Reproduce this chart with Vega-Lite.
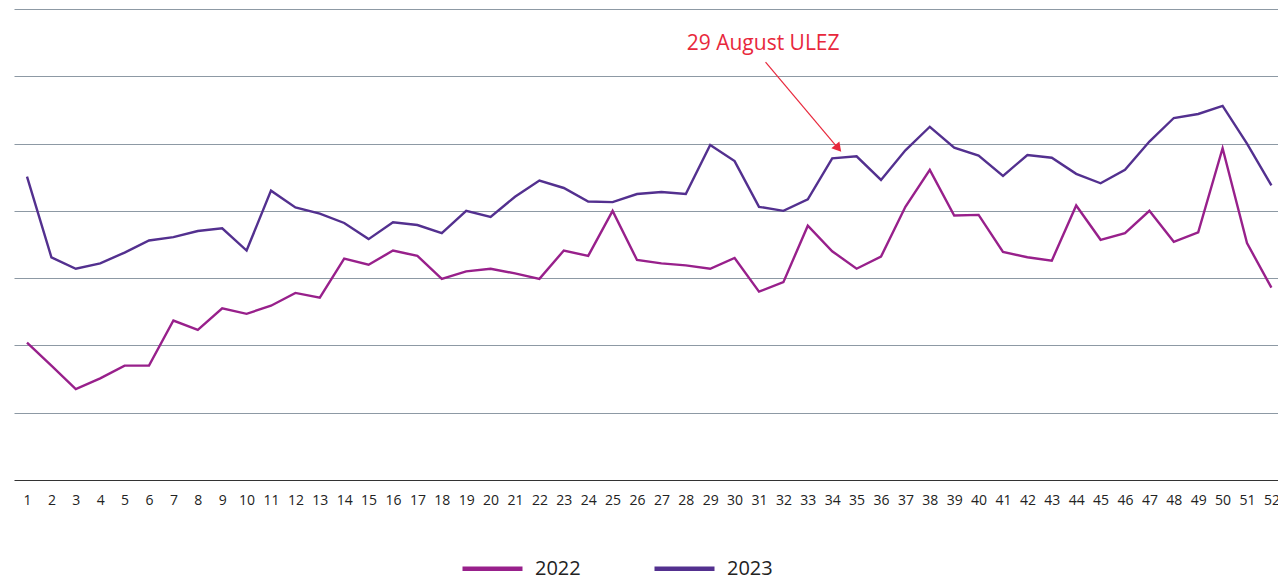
{
  "$schema": "https://vega.github.io/schema/vega-lite/v6.json",
  "width": 1264,
  "height": 471,
  "autosize": {"type": "none"},
  "padding": {"left": 14, "top": 9, "right": 0, "bottom": 101},
  "background": "white",
  "config": {"view": {"stroke": null}, "font": "Open Sans"},
  "datasets": {
    "series": [
      {"week": 1, "year": "2022", "value": 20.4}, {"week": 2, "year": "2022", "value": 17.0}, {"week": 3, "year": "2022", "value": 13.5}, {"week": 4, "year": "2022", "value": 15.1},
      {"week": 5, "year": "2022", "value": 17.0}, {"week": 6, "year": "2022", "value": 17.0}, {"week": 7, "year": "2022", "value": 23.7}, {"week": 8, "year": "2022", "value": 22.3},
      {"week": 9, "year": "2022", "value": 25.5}, {"week": 10, "year": "2022", "value": 24.7}, {"week": 11, "year": "2022", "value": 25.9}, {"week": 12, "year": "2022", "value": 27.8},
      {"week": 13, "year": "2022", "value": 27.1}, {"week": 14, "year": "2022", "value": 32.9}, {"week": 15, "year": "2022", "value": 32.0}, {"week": 16, "year": "2022", "value": 34.1},
      {"week": 17, "year": "2022", "value": 33.3}, {"week": 18, "year": "2022", "value": 29.9}, {"week": 19, "year": "2022", "value": 31.0}, {"week": 20, "year": "2022", "value": 31.4},
      {"week": 21, "year": "2022", "value": 30.7}, {"week": 22, "year": "2022", "value": 29.9}, {"week": 23, "year": "2022", "value": 34.1}, {"week": 24, "year": "2022", "value": 33.3},
      {"week": 25, "year": "2022", "value": 40.0}, {"week": 26, "year": "2022", "value": 32.7}, {"week": 27, "year": "2022", "value": 32.2}, {"week": 28, "year": "2022", "value": 31.9},
      {"week": 29, "year": "2022", "value": 31.4}, {"week": 30, "year": "2022", "value": 33.0}, {"week": 31, "year": "2022", "value": 28.0}, {"week": 32, "year": "2022", "value": 29.4},
      {"week": 33, "year": "2022", "value": 37.8}, {"week": 34, "year": "2022", "value": 34.0}, {"week": 35, "year": "2022", "value": 31.4}, {"week": 36, "year": "2022", "value": 33.2},
      {"week": 37, "year": "2022", "value": 40.6}, {"week": 38, "year": "2022", "value": 46.1}, {"week": 39, "year": "2022", "value": 39.3}, {"week": 40, "year": "2022", "value": 39.4},
      {"week": 41, "year": "2022", "value": 33.9}, {"week": 42, "year": "2022", "value": 33.1}, {"week": 43, "year": "2022", "value": 32.6}, {"week": 44, "year": "2022", "value": 40.8},
      {"week": 45, "year": "2022", "value": 35.7}, {"week": 46, "year": "2022", "value": 36.7}, {"week": 47, "year": "2022", "value": 40.0}, {"week": 48, "year": "2022", "value": 35.4},
      {"week": 49, "year": "2022", "value": 36.8}, {"week": 50, "year": "2022", "value": 49.3}, {"week": 51, "year": "2022", "value": 35.2}, {"week": 52, "year": "2022", "value": 28.6},
      {"week": 1, "year": "2023", "value": 45.1}, {"week": 2, "year": "2023", "value": 33.1}, {"week": 3, "year": "2023", "value": 31.4}, {"week": 4, "year": "2023", "value": 32.2},
      {"week": 5, "year": "2023", "value": 33.8}, {"week": 6, "year": "2023", "value": 35.6}, {"week": 7, "year": "2023", "value": 36.1}, {"week": 8, "year": "2023", "value": 37.0},
      {"week": 9, "year": "2023", "value": 37.4}, {"week": 10, "year": "2023", "value": 34.1}, {"week": 11, "year": "2023", "value": 43.0}, {"week": 12, "year": "2023", "value": 40.5},
      {"week": 13, "year": "2023", "value": 39.6}, {"week": 14, "year": "2023", "value": 38.2}, {"week": 15, "year": "2023", "value": 35.8}, {"week": 16, "year": "2023", "value": 38.3},
      {"week": 17, "year": "2023", "value": 37.9}, {"week": 18, "year": "2023", "value": 36.7}, {"week": 19, "year": "2023", "value": 40.0}, {"week": 20, "year": "2023", "value": 39.1},
      {"week": 21, "year": "2023", "value": 42.1}, {"week": 22, "year": "2023", "value": 44.5}, {"week": 23, "year": "2023", "value": 43.4}, {"week": 24, "year": "2023", "value": 41.4},
      {"week": 25, "year": "2023", "value": 41.3}, {"week": 26, "year": "2023", "value": 42.5}, {"week": 27, "year": "2023", "value": 42.8}, {"week": 28, "year": "2023", "value": 42.5},
      {"week": 29, "year": "2023", "value": 49.8}, {"week": 30, "year": "2023", "value": 47.4}, {"week": 31, "year": "2023", "value": 40.6}, {"week": 32, "year": "2023", "value": 40.0},
      {"week": 33, "year": "2023", "value": 41.7}, {"week": 34, "year": "2023", "value": 47.8}, {"week": 35, "year": "2023", "value": 48.1}, {"week": 36, "year": "2023", "value": 44.6},
      {"week": 37, "year": "2023", "value": 49.0}, {"week": 38, "year": "2023", "value": 52.5}, {"week": 39, "year": "2023", "value": 49.4}, {"week": 40, "year": "2023", "value": 48.2},
      {"week": 41, "year": "2023", "value": 45.2}, {"week": 42, "year": "2023", "value": 48.3}, {"week": 43, "year": "2023", "value": 47.9}, {"week": 44, "year": "2023", "value": 45.5},
      {"week": 45, "year": "2023", "value": 44.1}, {"week": 46, "year": "2023", "value": 46.1}, {"week": 47, "year": "2023", "value": 50.3}, {"week": 48, "year": "2023", "value": 53.8},
      {"week": 49, "year": "2023", "value": 54.4}, {"week": 50, "year": "2023", "value": 55.6}, {"week": 51, "year": "2023", "value": 50.0}, {"week": 52, "year": "2023", "value": 43.8}
    ],
    "note": [
      {"label": "29 August ULEZ", "textWeek": 31.2, "textValue": 64.8, "fromWeek": 31.3, "fromValue": 62.1, "toWeek": 34.25, "toValue": 49.4, "headWeek": 34.28, "headValue": 49.3}
    ]
  },
  "resolve": {"scale": {"x": "independent"}, "axis": {"x": "independent"}},
  "layer": [
    {
      "data": {"name": "note"},
      "mark": {"type": "rule", "color": "#e8283c", "strokeWidth": 1.2},
      "encoding": {
        "x": {"field": "fromWeek", "type": "quantitative", "scale": {"domain": [0.5, 52.3], "nice": false, "zero": false}, "axis": null},
        "y": {
          "field": "fromValue", "type": "quantitative",
          "scale": {"domain": [0, 70], "nice": false},
          "axis": {
            "values": [0, 10, 20, 30, 40, 50, 60, 70],
            "grid": true,
            "gridColor": {"condition": {"test": "datum.value === 0", "value": "#333333"}, "value": "#8d99a4"},
            "gridWidth": 1.2,
            "labels": false, "ticks": false, "domain": false, "title": null
          }
        },
        "x2": {"field": "toWeek"},
        "y2": {"field": "toValue"}
      }
    },
    {
      "data": {"name": "series"},
      "mark": {"type": "line", "strokeWidth": 2.4},
      "encoding": {
        "x": {
          "field": "week", "type": "ordinal",
          "scale": {"type": "point", "range": [13, 1257.4], "padding": 0},
          "axis": {
            "grid": false, "ticks": false, "title": null, "domain": false,
            "labelAngle": 0, "labelAlign": "center", "labelBaseline": "top",
            "labelFontSize": 14, "labelColor": "#222222", "labelPadding": 13,
            "labelOverlap": false, "labelBound": false, "labelFlush": false
          }
        },
        "y": {"field": "value", "type": "quantitative"},
        "color": {
          "field": "year", "type": "nominal",
          "scale": {"domain": ["2022", "2023"], "range": ["#98208b", "#53308f"]},
          "legend": {
            "orient": "none", "legendX": 446, "legendY": 527, "direction": "horizontal",
            "title": null, "symbolType": "stroke", "symbolSize": 3600, "symbolStrokeWidth": 4.5,
            "labelFontSize": 20, "labelColor": "#222222", "labelOffset": 10,
            "columnPadding": 64, "padding": 0
          }
        }
      }
    },
    {
      "data": {"name": "note"},
      "mark": {"type": "point", "shape": "triangle-right", "filled": true, "color": "#e8283c", "size": 110, "angle": 49.5, "opacity": 1},
      "encoding": {
        "x": {"field": "headWeek", "type": "quantitative", "scale": {"domain": [0.5, 52.3], "nice": false, "zero": false}, "axis": null},
        "y": {"field": "headValue", "type": "quantitative"}
      }
    },
    {
      "data": {"name": "note"},
      "mark": {"type": "text", "color": "#e8283c", "fontSize": 21, "align": "center", "baseline": "middle"},
      "encoding": {
        "x": {"field": "textWeek", "type": "quantitative", "scale": {"domain": [0.5, 52.3], "nice": false, "zero": false}, "axis": null},
        "y": {"field": "textValue", "type": "quantitative"},
        "text": {"field": "label"}
      }
    }
  ]
}
